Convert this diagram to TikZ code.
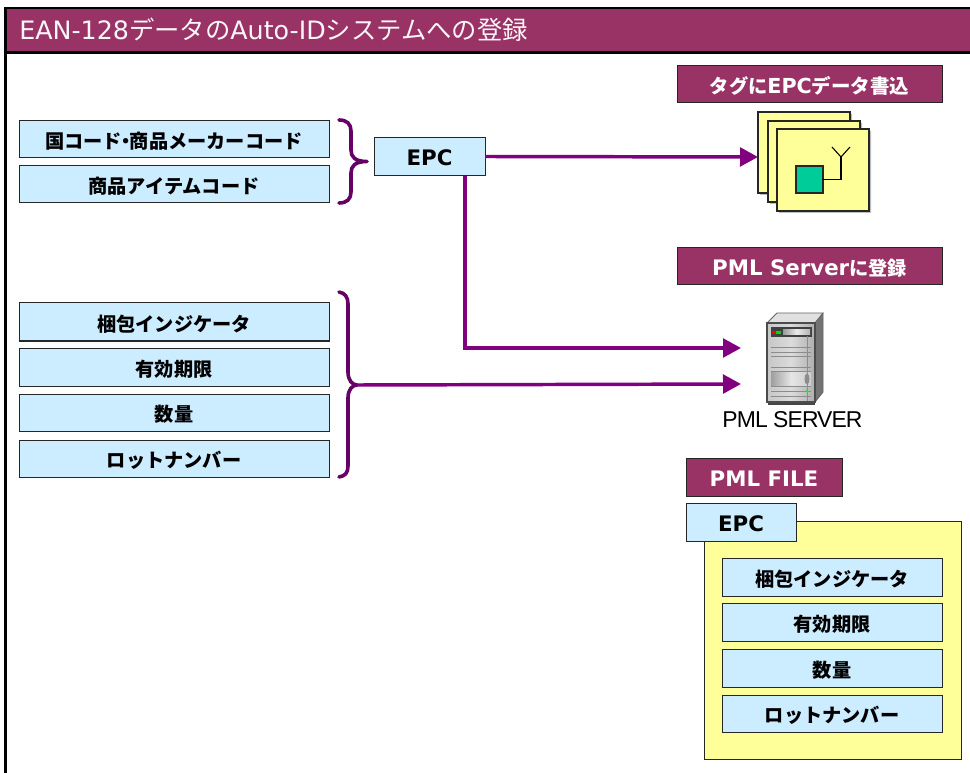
\documentclass[tikz,border=0pt]{standalone}
\usepackage{fontspec}
\setmainfont{DejaVu Sans}
\newfontfamily\jp{Noto Sans CJK JP}
\newfontfamily\srvfont[LetterSpace=-4]{Liberation Sans}
\usetikzlibrary{arrows.meta,calc}
\definecolor{band}{HTML}{993366}
\definecolor{sky}{HTML}{CCECFF}
\definecolor{pale}{HTML}{FFFF99}
\definecolor{teal}{HTML}{00CC99}
\definecolor{arrowpurple}{HTML}{800080}
\definecolor{bracepurple}{HTML}{660066}
\newcommand{\J}[1]{{\jp #1}}
\newcommand{\bx}[7]{\node[#6,minimum width={(#4-#2)*0.75pt},minimum height={(#5-#3)*0.75pt}] (#1) at ({(#2+#4)/2},{(#3+#5)/2}) {#7};}
\tikzset{
  x=0.75pt,y=-0.75pt,
  base/.style={draw=black!85,line width=0.75pt,inner sep=0pt,outer sep=0pt,align=center},
  skybox/.style={base,fill=sky,text height=15pt,text depth=1.5pt,font=\bfseries\fontsize{14.4pt}{16pt}\selectfont},
  headbox/.style={base,fill=band,text=white,text height=15pt,text depth=1.5pt,font=\bfseries\fontsize{14.4pt}{16pt}\selectfont},
  card/.style={base,fill=pale,line width=0.8pt},
  flow/.style={draw=arrowpurple,line width=2.6pt,-{Triangle[length=13.5pt,width=14pt]}},
  bracecurve/.style={draw=bracepurple,line width=2.7pt,line cap=round,line join=round},
  srvline/.style={draw=black!45,line width=0.7pt},
}
\begin{document}
\begin{tikzpicture}
\useasboundingbox (0,0) rectangle (970,773);
\fill[white] (0,0) rectangle (970,773);
% frame and title band
\node[fill=band,draw=none,minimum width={965*0.75pt},minimum height={45*0.75pt},inner sep=0pt,outer sep=0pt] (titleband) at (487.5,30) {};
\draw[black,line width=1.6pt] (970,8) -- (5.5,8) -- (5.5,773);
\draw[black,line width=1.6pt] (5.5,52.5) -- (970,52.5);
\node[anchor=west,text=white!95!band,inner sep=0pt,font=\fontsize{19pt}{22pt}\selectfont] (title) at (19,30) {EAN-128\J{データの}Auto-ID\J{システムへの登録}};
% left boxes
\bx{a1}{19}{121}{329}{158}{skybox}{\J{\textbf{国コード\kern-.3em・\kern-.3em商品メーカーコード}}}
\bx{a2}{19}{166}{329}{203}{skybox}{\J{\textbf{商品アイテムコード}}}
\bx{epc}{374}{138}{485}{176}{skybox}{\fontsize{16pt}{17pt}\selectfont EPC}
\bx{b1}{19}{303}{329}{341}{skybox}{\J{\textbf{梱包インジケータ}}}
\bx{b2}{19}{348}{329}{386}{skybox}{\J{\textbf{有効期限}}}
\bx{b3}{19}{394}{329}{431}{skybox}{\J{\textbf{数量}}}
\bx{b4}{19}{440}{329}{477}{skybox}{\J{\textbf{ロットナンバー}}}
% header labels
\bx{h1}{677}{66}{942}{103}{headbox}{\J{\textbf{タグに}}\fontsize{15.5pt}{17pt}\selectfont EPC\fontsize{14.6pt}{17pt}\selectfont\J{\textbf{データ書込}}}
\bx{h2}{677}{248}{942}{285}{headbox}{\fontsize{16pt}{17pt}\selectfont PML Server\fontsize{14.4pt}{17pt}\selectfont\J{\textbf{に登録}}}
\bx{h3}{686}{458}{842}{496}{headbox}{\fontsize{16pt}{17pt}\selectfont PML FILE}
% tag cards
\fill[black!25] (760,114) rectangle (852,195) (770,123) rectangle (862,204) (779,131) rectangle (871,213);
\bx{t1}{758}{112}{850}{193}{card}{}
\bx{t2}{768}{121}{860}{202}{card}{}
\bx{t3}{777}{129}{869}{211}{card}{}
\bx{chip}{796}{166}{823}{193}{base,fill=teal,line width=0.9pt}{}
\coordinate (antfoot) at (841,157);
\draw[black,line width=0.8pt] (chip.east) -| (antfoot);
\draw[black,line width=0.8pt] (832,147) -- (antfoot) -- (850,147);
% server
\coordinate (s1) at (767,323);\coordinate (s2) at (815,323);\coordinate (s3) at (815,402);\coordinate (s4) at (767,402);
\fill[black!72] (768,402) rectangle (815,405);
\fill[black!12] (767,323) -- (777,313) -- (823,313) -- (815,323) -- cycle;
\fill[black!55] (815,323) -- (823,313) -- (823,392) -- (815,402) -- cycle;
\shade[left color=black!22,right color=black!32,middle color=black!14] (s1) rectangle (s3);
\shade[left color=black!38,right color=black!20,middle color=black!10] (771,372) rectangle (811,386);
\draw[black!60,line width=0.7pt] (767,323) -- (777,313) -- (823,313) -- (815,323) -- cycle;
\draw[black!60,line width=0.7pt] (823,313) -- (823,392) -- (815,402);
\draw[black!70,line width=0.9pt] (s1) rectangle (s3);
\fill[black!75] (771,327) rectangle (812,337);
\shade[left color=black!40,right color=black!30,middle color=black!8] (783,330) rectangle (810,335);
\fill[red] (772,331) rectangle (777,334);
\fill[green!85!black] (776,331) rectangle (781,334);
\foreach \yy in {347,352,356,367,371,386,391,396}{\draw[srvline] (771,\yy) -- (811,\yy);}
\draw[srvline] (807,336) -- (807,401);
\fill[black!45] (807,379) ellipse [x radius=2.5,y radius=5.5];
\fill[green] (807,391) circle (1.5);
\node[inner sep=0pt,font=\srvfont\fontsize{17.2pt}{20pt}\selectfont] (srvlabel) at (792.5,420) {PML SERVER};
% PML file
\bx{file}{704}{521}{961}{759}{card,line width=0.7pt}{}
\bx{fepc}{686}{503}{796}{541}{skybox}{\fontsize{16pt}{17pt}\selectfont EPC}
\bx{c1}{722}{558}{942}{596}{skybox}{\J{\textbf{梱包インジケータ}}}
\bx{c2}{722}{603}{942}{641}{skybox}{\J{\textbf{有効期限}}}
\bx{c3}{722}{649}{942}{687}{skybox}{\J{\textbf{数量}}}
\bx{c4}{722}{695}{942}{732}{skybox}{\J{\textbf{ロットナンバー}}}
% braces
\coordinate (tipA) at (367,161.5);
\coordinate (tipB) at (357,385);
\draw[bracecurve] (339,120) .. controls (347,120) and (351,124) .. (351,131) -- (351,150) .. controls (351,157) and (355,161.5) .. (tipA) .. controls (355,161.5) and (351,166) .. (351,173) -- (351,192) .. controls (351,199) and (347,203) .. (339,203);
\draw[bracecurve] (339,292) .. controls (345,293) and (348,297) .. (348,304) -- (348,372) .. controls (348,380) and (352,385) .. (tipB) .. controls (352,385) and (348,390) .. (348,398) -- (348,466) .. controls (348,473) and (345,476) .. (339,477);
% connectors
\coordinate (tagin) at (758,157);
\coordinate (epcright) at (485,156.5);
\coordinate (epcdown) at (465,176);
\coordinate (srvA) at (741,348);
\coordinate (srvB) at (741,384);
\draw[flow] (epcright) -- (tagin);
\draw[flow] (epcdown) |- (srvA);
\draw[flow] (tipB) -- (srvB);
\end{tikzpicture}
\end{document}
